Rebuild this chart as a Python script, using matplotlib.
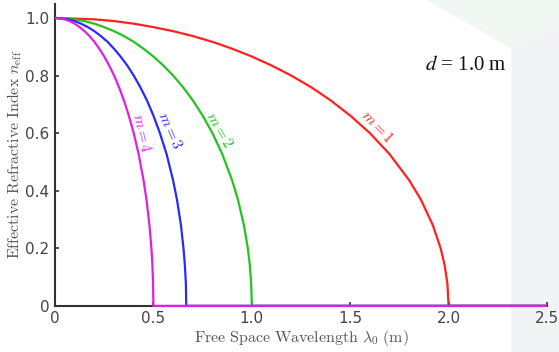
import matplotlib
matplotlib.use("Agg")
import matplotlib.pyplot as plt
from matplotlib.patches import Polygon

# wavelength (m) and effective index
lam_m1 = [0, 0.2, 0.3, 0.4, 0.5, 0.6, 0.7, 0.8, 0.9, 1.0, 1.1, 1.2, 1.3, 1.4, 1.5, 1.6, 1.7, 1.8, 1.86, 1.92, 1.96, 1.98, 1.994, 2.0, 2.5]
lam_m2 = [0, 0.1, 0.15, 0.2, 0.25, 0.3, 0.35, 0.4, 0.45, 0.5, 0.55, 0.6, 0.65, 0.7, 0.75, 0.8, 0.85, 0.9, 0.93, 0.96, 0.98, 0.99, 0.997, 1.0, 2.5]
lam_m3 = [0, 0.067, 0.1, 0.133, 0.167, 0.2, 0.233, 0.267, 0.3, 0.333, 0.367, 0.4, 0.433, 0.467, 0.5, 0.533, 0.567, 0.6, 0.62, 0.64, 0.653, 0.66, 0.665, 0.667, 2.5]
lam_m4 = [0, 0.05, 0.075, 0.1, 0.125, 0.15, 0.175, 0.2, 0.225, 0.25, 0.275, 0.3, 0.325, 0.35, 0.375, 0.4, 0.425, 0.45, 0.465, 0.48, 0.49, 0.495, 0.4985, 0.5, 2.5]
n_m1 = [1.0, 0.995, 0.989, 0.98, 0.968, 0.954, 0.937, 0.917, 0.893, 0.866, 0.835, 0.80, 0.76, 0.714, 0.661, 0.60, 0.527, 0.436, 0.368, 0.28, 0.199, 0.141, 0.077, 0, 0]
n_m2 = [1.0, 0.995, 0.989, 0.98, 0.968, 0.954, 0.937, 0.917, 0.893, 0.866, 0.835, 0.80, 0.76, 0.714, 0.661, 0.60, 0.527, 0.436, 0.368, 0.28, 0.199, 0.141, 0.077, 0, 0]
n_m3 = [1.0, 0.995, 0.989, 0.98, 0.968, 0.954, 0.937, 0.917, 0.893, 0.866, 0.835, 0.80, 0.76, 0.714, 0.661, 0.60, 0.527, 0.436, 0.368, 0.28, 0.199, 0.141, 0.077, 0, 0]
n_m4 = [1.0, 0.995, 0.989, 0.98, 0.968, 0.954, 0.937, 0.917, 0.893, 0.866, 0.835, 0.80, 0.76, 0.714, 0.661, 0.60, 0.527, 0.436, 0.368, 0.28, 0.199, 0.141, 0.077, 0, 0]

labels = ['$m = 1$', '$m = 2$', '$m = 3$', '$m = 4$']
colors = ['#ff2020', '#22c322', '#2a2aff', '#e020e0']
label_pos = [(1.636, 0.622), (0.838, 0.611), (0.584, 0.61), (0.442, 0.60)]
label_rot = [-46, -60, -66, -77]

fig = plt.figure(figsize=(5.59, 3.52), dpi=100)

# slide background shapes
fig.patches.append(Polygon([[428/559, 1], [1, 1], [1, 1-25/352], [512/559, 1-48/352]],
                           closed=True, transform=fig.transFigure, color='#f1f7f3', zorder=0))
fig.patches.append(Polygon([[512/559, 1-48/352], [1, 1-25/352], [1, 0], [512/559, 0]],
                           closed=True, transform=fig.transFigure, color='#f2f3f5', zorder=0))

ax = fig.add_axes([55/559, 0.131, 492/559, 0.859])
ax.set_zorder(2)
ax.patch.set_alpha(0)

for lam, n, c in zip([lam_m1, lam_m2, lam_m3, lam_m4], [n_m1, n_m2, n_m3, n_m4], colors):
    ax.plot(lam, n, color=c, lw=1.6, solid_capstyle='butt', clip_on=False, zorder=3)

for lab, c, (x, y), r in zip(labels, colors, label_pos, label_rot):
    ax.text(x, y, lab, color=c, rotation=r, ha='center', va='center',
            fontsize=11, math_fontfamily='cm', rotation_mode='anchor')

ax.set_xlim(0, 2.5)
ax.set_ylim(0, 1.05)
ax.set_xticks([0, 0.5, 1.0, 1.5, 2.0, 2.5])
ax.set_xticklabels(['0', '0.5', '1.0', '1.5', '2.0', '2.5'])
ax.set_yticks([0, 0.2, 0.4, 0.6, 0.8, 1.0])
ax.set_yticklabels(['0', '0.2', '0.4', '0.6', '0.8', '1.0'])
ax.tick_params(direction='in', length=3, width=1.2, color='#333333',
               labelcolor='#444444', labelsize=11, pad=4)
for s in ['top', 'right']:
    ax.spines[s].set_visible(False)
for s in ['left', 'bottom']:
    ax.spines[s].set_color('#333333')
    ax.spines[s].set_linewidth(1.5)

ax.set_xlabel(r'$\mathrm{Free\ Space\ Wavelength}\ \lambda_0\ \mathrm{(m)}$',
              color='#555555', fontsize=11.5, math_fontfamily='cm', labelpad=1)
ax.set_ylabel(r'$\mathrm{Effective\ Refractive\ Index}\ n_{\mathrm{eff}}$',
              color='#555555', fontsize=11.5, math_fontfamily='cm', labelpad=1)

fig.text(425/559, 1-66/352, '$d$ = 1.0 m', family='Liberation Serif', math_fontfamily='stix',
         fontsize=15, va='center', ha='left', color='#111111')

fig.savefig('out.png', dpi=100)
